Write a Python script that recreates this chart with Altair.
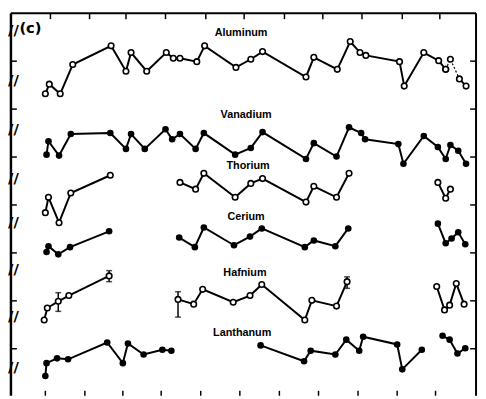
import altair as alt
import pandas as pd

# ---- data (x in tick units, y in left-axis tick units) ----
al_x = [0.00, 0.10, 0.38, 0.70, 1.68, 2.06, 2.19, 2.59, 3.09, 3.27, 3.44, 3.87, 4.07, 4.87,
        5.25, 5.55, 6.66, 6.86, 7.46, 7.79, 8.04, 8.19, 9.05, 9.17, 9.67, 10.05, 10.23]
al_y = [6.32, 6.52, 6.32, 6.93, 7.32, 6.79, 7.18, 6.79, 7.18, 7.06, 7.06, 6.99, 7.32, 6.87,
        7.04, 7.20, 6.67, 7.08, 6.83, 7.41, 7.18, 7.12, 6.99, 6.48, 7.18, 7.01, 6.83]
al_tail_x = [10.23, 10.35, 10.58, 10.75]
al_tail_y = [6.83, 7.04, 6.63, 6.48]

va_x = [0.03, 0.08, 0.35, 0.65, 1.66, 2.06, 2.19, 2.54, 3.07, 3.24, 3.44, 3.84, 4.05, 4.85,
        5.25, 5.55, 6.66, 6.86, 7.44, 7.76, 8.07, 8.17, 9.02, 9.15, 9.67, 10.03, 10.23,
        10.35, 10.55, 10.75]
va_y = [5.05, 5.33, 5.03, 5.48, 5.50, 5.17, 5.48, 5.17, 5.58, 5.37, 5.48, 5.17, 5.50, 5.05,
        5.19, 5.52, 4.96, 5.29, 5.01, 5.62, 5.50, 5.37, 5.27, 4.86, 5.44, 5.21, 4.96,
        5.25, 5.13, 4.86]

th_x = [[0.00, 0.08, 0.35, 0.65, 1.66],
        [3.44, 3.84, 4.05, 4.85, 5.25, 5.55, 6.66, 6.86, 7.44, 7.76],
        [10.03, 10.23, 10.35]]
th_y = [[3.84, 4.16, 3.63, 4.25, 4.62],
        [4.47, 4.33, 4.66, 4.16, 4.45, 4.55, 4.06, 4.39, 4.16, 4.66],
        [4.47, 4.14, 4.33]]

ce_x = [[0.03, 0.08, 0.33, 0.63, 1.63],
        [3.42, 3.82, 4.05, 4.82, 5.23, 5.53, 6.63, 6.86, 7.41, 7.74],
        [10.03, 10.23, 10.38, 10.55, 10.73]]
ce_y = [[3.02, 3.14, 2.97, 3.12, 3.45],
        [3.32, 3.12, 3.53, 3.16, 3.34, 3.51, 3.12, 3.26, 3.14, 3.51],
        [3.61, 3.20, 3.30, 3.43, 3.18]]

hf_x = [[-0.03, 0.05, 0.33, 0.60, 1.63],
        [3.39, 3.79, 4.02, 4.80, 5.23, 5.53, 6.63, 6.81, 7.44, 7.71],
        [10.00, 10.20, 10.33, 10.50, 10.70]]
hf_y = [[1.60, 1.85, 1.99, 2.11, 2.52],
        [2.03, 1.93, 2.24, 1.97, 2.11, 2.34, 1.60, 2.01, 1.89, 2.40],
        [2.30, 1.81, 1.91, 2.36, 1.93]]
# error bars on Hafnium
hf_err_x = [0.33, 1.63, 3.39, 7.71]
hf_err_lo = [1.78, 2.40, 1.66, 2.26]
hf_err_hi = [2.17, 2.63, 2.19, 2.50]

la_x = [[0.00, 0.03, 0.30, 0.58, 1.58, 1.98, 2.11, 2.51, 2.99, 3.22],
        [5.50, 6.61, 6.78, 7.41, 7.69, 8.02, 8.12, 8.99, 9.12, 9.62],
        [10.15, 10.33, 10.53, 10.73]]
la_y = [[0.43, 0.70, 0.80, 0.78, 1.13, 0.70, 1.11, 0.88, 0.98, 0.96],
        [1.07, 0.74, 0.96, 0.88, 1.19, 0.96, 1.25, 1.09, 0.57, 0.98],
        [1.27, 1.19, 0.90, 1.01]]

labels = ["Aluminum", "Vanadium", "Thorium", "Cerium", "Hafnium", "Lanthanum"]
label_x = [5.00, 5.13, 5.18, 5.13, 5.10, 5.03]
label_y = [7.59, 5.87, 4.82, 3.75, 2.58, 1.33]

top_ticks = [0.13, 1.13, 2.06, 3.07, 4.10, 5.08, 6.11, 7.09, 8.09, 9.12, 10.08]
bottom_ticks = [0.00, 1.01, 1.98, 2.96, 3.97, 4.97, 5.98, 6.98, 7.99, 8.99, 9.97]
side_ticks = [1, 2, 3, 4, 5, 6, 7]
breaks_y = [7.65, 6.61, 5.58, 4.57, 3.65, 2.67, 1.68, 0.62]

# ---- build tables ----
rows = []
def add(name, seg, xs, ys, filled):
    for i, (a, b) in enumerate(zip(xs, ys)):
        rows.append(dict(series=name, seg=f"{name}-{seg}", x=a, y=b, idx=i, filled=filled))

add("Aluminum", 0, al_x, al_y, False)
add("Vanadium", 0, va_x, va_y, True)
for k in range(3):
    add("Thorium", k, th_x[k], th_y[k], False)
    add("Cerium", k, ce_x[k], ce_y[k], True)
    add("Hafnium", k, hf_x[k], hf_y[k], False)
    add("Lanthanum", k, la_x[k], la_y[k], True)
df = pd.DataFrame(rows)

tail = pd.DataFrame(dict(x=al_tail_x, y=al_tail_y, idx=range(len(al_tail_x))))
tail_dash = tail.iloc[:3]
tail_solid = tail.iloc[2:]

err = pd.DataFrame(dict(x=hf_err_x, lo=hf_err_lo, hi=hf_err_hi))
lab = pd.DataFrame(dict(text=labels, x=label_x, y=label_y))

W, H = 473, 389
xs = alt.Scale(domain=[-0.879, 11.005], nice=False, zero=False)
ys = alt.Scale(domain=[0.02, 8], nice=False, zero=False)
X = lambda f="x": alt.X(f, type="quantitative", scale=xs, axis=None)
Y = lambda f="y": alt.Y(f, type="quantitative", scale=ys, axis=None)

lines = alt.Chart(df).mark_line(color="black", strokeWidth=2).encode(
    x=X(), y=Y(), detail="seg:N", order="idx:Q")
dash = alt.Chart(tail_dash).mark_line(color="black", strokeWidth=1.2, strokeDash=[2, 2]).encode(
    x=X(), y=Y(), order="idx:Q")
tsolid = alt.Chart(tail_solid).mark_line(color="black", strokeWidth=2).encode(
    x=X(), y=Y(), order="idx:Q")

filled_pts = alt.Chart(df[df.filled]).mark_point(
    shape="circle", filled=True, color="black", size=45, opacity=1).encode(x=X(), y=Y())
open_pts = alt.Chart(df[~df.filled]).mark_point(
    shape="circle", filled=True, fill="white", stroke="black", strokeWidth=1.6,
    size=32, opacity=1).encode(x=X(), y=Y())
tail_pts = alt.Chart(tail).mark_point(
    shape="circle", filled=True, fill="white", stroke="black", strokeWidth=1.6,
    size=32, opacity=1).encode(x=X(), y=Y())

err_rule = alt.Chart(err).mark_rule(color="black", strokeWidth=1.5).encode(
    x=X(), y=Y("lo"), y2="hi")
err_lo = alt.Chart(err).mark_tick(color="black", orient="horizontal", size=6, thickness=1.5).encode(
    x=X(), y=Y("lo"))
err_hi = alt.Chart(err).mark_tick(color="black", orient="horizontal", size=6, thickness=1.5).encode(
    x=X(), y=Y("hi"))

label_txt = alt.Chart(lab).mark_text(
    font="Liberation Sans", fontWeight="bold", fontSize=11, color="black").encode(
    x=X(), y=Y(), text="text:N")

one = pd.DataFrame({"a": [0]})
frame = alt.layer(
    alt.Chart(one).mark_rule(color="black", strokeWidth=2).encode(
        x=alt.value(0), x2=alt.value(W), y=alt.value(0)),
    alt.Chart(one).mark_rule(color="black", strokeWidth=2.5).encode(
        x=alt.value(0), y=alt.value(0), y2=alt.value(H)),
    alt.Chart(one).mark_rule(color="black", strokeWidth=2).encode(
        x=alt.value(W), y=alt.value(0), y2=alt.value(H)),
)

tt = alt.Chart(pd.DataFrame({"x": top_ticks})).mark_rule(color="black", strokeWidth=1.5).encode(
    x=X(), y=alt.value(0), y2=alt.value(6))
bt = alt.Chart(pd.DataFrame({"x": bottom_ticks})).mark_rule(color="black", strokeWidth=1.5).encode(
    x=X(), y=alt.value(H), y2=alt.value(H - 5))
lt = alt.Chart(pd.DataFrame({"y": side_ticks})).mark_rule(color="black", strokeWidth=1.5).encode(
    y=Y(), x=alt.value(0), x2=alt.value(6))
rt = alt.Chart(pd.DataFrame({"y": side_ticks})).mark_rule(color="black", strokeWidth=1.5).encode(
    y=Y(), x=alt.value(W - 6), x2=alt.value(W))

brk = alt.Chart(pd.DataFrame({"y": breaks_y})).mark_text(
    text="//", font="DejaVu Sans", fontWeight="bold", fontSize=15, color="black",
    align="left", baseline="middle", dx=-3).encode(y=Y(), x=alt.value(0))

panel = alt.Chart(pd.DataFrame({"t": ["(c)"], "x": [-0.38], "y": [7.69]})).mark_text(
    font="DejaVu Sans", fontWeight="bold", fontSize=15, color="black").encode(
    x=X(), y=Y(), text="t:N")

chart = alt.layer(
    frame, tt, bt, lt, rt, brk, panel,
    lines, dash, tsolid, err_rule, err_lo, err_hi,
    open_pts, tail_pts, filled_pts, label_txt,
).properties(
    width=W, height=H,
    padding={"left": 3, "top": 2, "right": 2, "bottom": 0},
    autosize=alt.AutoSizeParams(type="none"),
    background="white",
).configure_view(stroke=None)

chart.save("out.html", embed_options={"renderer": "svg", "actions": False})
